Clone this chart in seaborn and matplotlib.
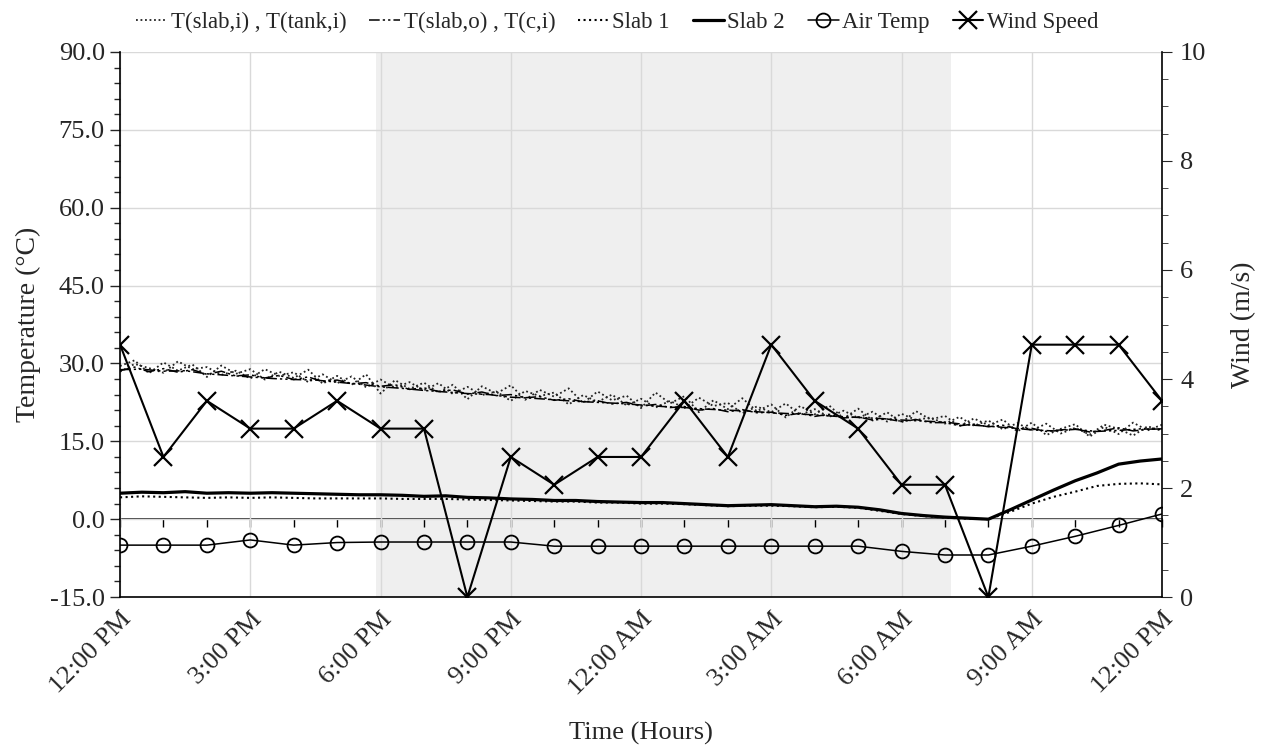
#%% Temperaturas da laje / tanque e vento ao longo de 24 h

import numpy as np
import pandas as pd
import seaborn as sns
import matplotlib.pyplot as plt

#%% Dados (horas a partir das 12:00 PM)

tick_labels = ['12:00 PM', '3:00 PM', '6:00 PM', '9:00 PM', '12:00 AM',
               '3:00 AM', '6:00 AM', '9:00 AM', '12:00 PM']

# T(slab,i) e T(tank,i) - a cada 20 min
t_slab_i = [29.5, 30.6, 28.1, 30.2, 28.6, 29.8, 27.4, 29.6, 28.0, 28.9, 26.9, 28.4,
            27.2, 28.8, 26.1, 27.6, 25.9, 27.9, 24.2, 26.8, 25.1, 26.3, 24.4, 25.9,
            23.1, 25.6, 24.2, 25.8, 23.0, 24.9, 23.6, 25.2, 22.4, 24.6, 22.9, 23.8,
            21.4, 24.4, 22.3, 23.7, 20.6, 22.9, 21.2, 23.3, 20.8, 22.1, 19.6, 21.8,
            20.2, 21.9, 19.4, 21.3, 19.0, 20.6, 18.6, 20.8, 19.2, 19.9, 17.9, 19.4,
            18.1, 19.2, 16.9, 18.6, 16.2, 17.4, 18.3, 15.9, 17.8, 16.4, 18.6, 17.1,
            18.2]
t_tank_i = [28.4, 29.9, 29.1, 28.2, 30.4, 28.9, 29.3, 27.8, 28.6, 27.1, 28.9, 27.6,
            28.3, 26.4, 27.9, 26.2, 27.5, 25.4, 26.9, 25.3, 26.4, 24.8, 26.2, 24.1,
            25.5, 23.9, 24.6, 22.8, 24.7, 23.7, 24.4, 22.1, 23.9, 22.6, 24.0, 21.9,
            23.2, 21.5, 22.8, 21.4, 23.4, 21.8, 22.4, 20.4, 21.7, 20.6, 22.3, 20.1,
            21.2, 19.7, 20.9, 19.5, 20.7, 18.8, 20.3, 19.1, 19.6, 18.4, 19.7, 18.0,
            19.0, 17.3, 18.5, 17.1, 18.4, 16.5, 17.6, 16.3, 18.2, 17.4, 16.1, 17.9,
            17.0]

# T(slab,o) - a cada 30 min, T(c,i) - a cada 20 min
t_slab_o = [28.8, 28.9, 28.5, 28.6, 28.0, 27.7, 27.4, 27.1, 26.9, 26.8, 26.4, 26.0,
            25.5, 25.2, 24.8, 24.5, 24.2, 24.0, 23.5, 23.3, 23.0, 22.7, 22.5, 22.3,
            22.0, 21.7, 21.5, 21.2, 21.0, 20.8, 20.5, 20.3, 20.1, 19.8, 19.6, 19.4,
            19.1, 18.9, 18.7, 18.2, 17.9, 17.6, 17.2, 17.0, 17.3, 16.9, 17.1, 17.4,
            17.3]
t_c_i = [28.6, 29.3, 28.4, 29.0, 28.3, 28.8, 27.9, 28.5, 27.6, 27.8, 27.2, 27.7,
         26.9, 27.4, 26.5, 26.8, 26.1, 26.3, 25.6, 25.9, 25.0, 25.3, 24.6, 24.9,
         24.1, 24.5, 23.8, 24.0, 23.4, 23.6, 22.9, 23.2, 22.6, 22.8, 22.2, 22.5,
         21.8, 22.1, 21.5, 21.7, 21.0, 21.3, 20.7, 21.1, 20.5, 20.6, 20.0, 20.4,
         19.8, 20.2, 19.5, 19.7, 19.1, 19.3, 18.8, 19.2, 18.6, 18.6, 18.0, 18.3,
         17.8, 18.1, 17.4, 17.5, 16.9, 17.2, 17.4, 16.8, 17.1, 17.6, 17.0, 17.3,
         17.4]

# Slab 1 / Slab 2 - a cada 30 min
slab1 = [4.2, 4.4, 4.3, 4.2, 4.1, 4.2, 4.1, 4.2, 4.1, 4.0, 4.0, 4.0,
         4.0, 3.9, 3.9, 3.9, 3.8, 3.7, 3.6, 3.5, 3.4, 3.4, 3.2, 3.2,
         3.0, 3.0, 2.9, 2.7, 2.5, 2.6, 2.6, 2.5, 2.3, 2.4, 2.2, 1.6,
         1.0, 0.6, 0.3, 0.1, 0.0, 1.4, 3.0, 4.3, 5.3, 6.4, 6.8, 6.9,
         6.7]
slab2 = [5.0, 5.2, 5.1, 5.3, 5.0, 5.1, 5.0, 5.1, 5.0, 4.9, 4.8, 4.7,
         4.7, 4.6, 4.4, 4.5, 4.2, 4.1, 3.9, 3.8, 3.6, 3.6, 3.4, 3.3,
         3.2, 3.2, 3.0, 2.8, 2.6, 2.7, 2.8, 2.6, 2.4, 2.5, 2.3, 1.8,
         1.1, 0.7, 0.4, 0.2, 0.0, 1.8, 3.7, 5.6, 7.4, 8.9, 10.6, 11.2,
         11.6]

# Air temp e vento - de hora em hora
air_temp = [-5.0, -5.0, -5.0, -4.0, -5.0, -4.5, -4.4, -4.4, -4.4, -4.4, -5.2, -5.2,
            -5.2, -5.2, -5.2, -5.2, -5.2, -5.2, -6.2, -6.9, -6.9, -5.2, -3.3, -1.2,
            1.0]
wind = [4.63, 2.57, 3.60, 3.09, 3.09, 3.60, 3.09, 3.09, 0.00, 2.57, 2.06, 2.57,
        2.57, 3.60, 2.57, 4.63, 3.60, 3.09, 2.06, 2.06, 0.00, 4.63, 4.63, 4.63,
        3.60]

h20 = np.arange(len(t_slab_i)) / 3
h30 = np.arange(len(t_slab_o)) / 2
h60 = np.arange(len(wind))

#%% Gráfico

sns.set_style('white')
plt.rcParams['font.family'] = ['Liberation Serif', 'DejaVu Serif']
fs = 19

fig = plt.figure(figsize=(12.65, 7.51), dpi=100)
ax1 = fig.add_axes([0.0949, 0.205, 0.8237, 0.7258])

ax1.axvspan(5.9, 19.15, color='#efefef', zorder=0, lw=0)

dotted = (0, (1, 1.5))
dashdot = (0, (7, 2, 1.5, 2, 1.5, 2))
sns.lineplot(x=h20, y=t_slab_i, ax=ax1, color='#222222', lw=1.3, linestyle=dotted,
             label='T(slab,i) , T(tank,i)', legend=False)
sns.lineplot(x=h20, y=t_tank_i, ax=ax1, color='#222222', lw=1.3, linestyle=dotted,
             label='_nolegend_', legend=False)
sns.lineplot(x=h30, y=t_slab_o, ax=ax1, color='black', lw=1.1, linestyle=dashdot,
             label='T(slab,o) , T(c,i)', legend=False)
sns.lineplot(x=h20, y=t_c_i, ax=ax1, color='black', lw=1.1, linestyle=dashdot,
             label='_nolegend_', legend=False)
sns.lineplot(x=h30, y=slab1, ax=ax1, color='black', lw=1.5, linestyle=':',
             label='Slab 1', legend=False)
sns.lineplot(x=h30, y=slab2, ax=ax1, color='black', lw=2.3, label='Slab 2', legend=False)
sns.lineplot(x=h60, y=air_temp, ax=ax1, color='black', lw=1.1, marker='o', markersize=10,
             markerfacecolor='none', markeredgecolor='black', markeredgewidth=1.3,
             label='Air Temp', legend=False)

ax1.set_xlim(0, 24)
ax1.set_ylim(-15, 90)
ax1.set_yticks(np.arange(-15, 91, 15))
ax1.set_yticks(np.arange(-15, 91, 3), minor=True)
ax1.set_yticklabels([f'{v:.1f}' for v in np.arange(-15, 91, 15)], fontsize=fs)
ax1.set_xticks(np.arange(0, 25, 3))
ax1.set_xticklabels(tick_labels, fontsize=fs, rotation=45, ha='right',
                    rotation_mode='anchor')
ax1.tick_params(axis='x', length=0, pad=8)
ax1.tick_params(axis='y', which='major', direction='out', length=7, width=1, left=True, pad=4)
ax1.tick_params(axis='y', which='minor', direction='out', length=4, width=1, left=True)
ax1.grid(True, color='#d9d9d9', lw=1)
ax1.set_axisbelow(True)
ax1.set_xlabel('Time (Hours)', fontsize=fs, labelpad=16)
ax1.set_ylabel('Temperature (°C)', fontsize=fs + 1, labelpad=6)
for s in ['top', 'right']:
    ax1.spines[s].set_visible(False)
for s in ['left', 'bottom']:
    ax1.spines[s].set_color('black')
    ax1.spines[s].set_linewidth(1.2)

# eixo horizontal cruzando em 0
sec = ax1.secondary_xaxis(15 / 105)
sec.set_xticks(np.arange(0, 25, 1))
sec.set_xticklabels([])
sec.tick_params(direction='out', length=6, width=1, color='black')
sec.spines['bottom'].set_linewidth(1.3)

ax2 = ax1.twinx()
sns.lineplot(x=h60, y=wind, ax=ax2, color='black', lw=1.5, marker='x', markersize=13,
             markeredgewidth=1.6, markeredgecolor='black', label='Wind Speed', legend=False)
ax2.set_ylim(0, 10)
ax2.set_yticks(np.arange(0, 11, 2))
ax2.set_yticks(np.arange(0, 10.1, 0.5), minor=True)
ax2.set_yticklabels([str(v) for v in range(0, 11, 2)], fontsize=fs)
ax2.tick_params(axis='y', which='major', direction='out', length=7, right=True, pad=6)
ax2.tick_params(axis='y', which='minor', direction='out', length=4, right=True)
ax2.set_ylabel('Wind (m/s)', fontsize=fs + 1, labelpad=18)
ax2.grid(False)
for s in ['top', 'left', 'bottom']:
    ax2.spines[s].set_visible(False)
ax2.spines['right'].set_color('black')
ax2.spines['right'].set_linewidth(1.2)

h1, l1 = ax1.get_legend_handles_labels()
h2, l2 = ax2.get_legend_handles_labels()
fig.legend(h1 + h2, l1 + l2, loc='upper center', bbox_to_anchor=(0.488, 1.012), ncol=6,
           frameon=False, fontsize=16.5, handlelength=1.35, handletextpad=0.15,
           columnspacing=1.0)

fig.savefig('out.png', dpi=100)
